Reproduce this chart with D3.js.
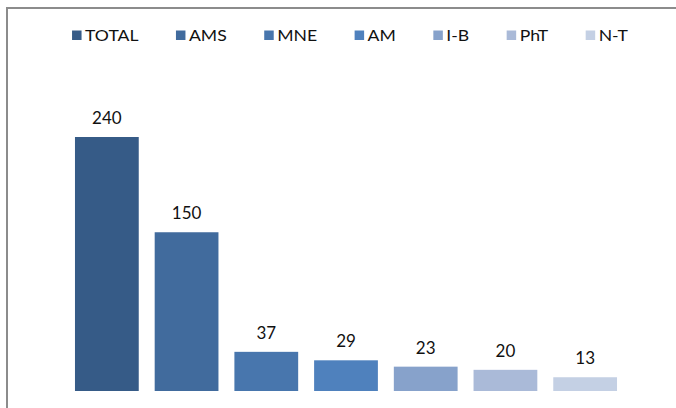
<!DOCTYPE html>
<html>
<head>
<meta charset="utf-8">
<script src="https://cdn.jsdelivr.net/npm/d3@7"></script>
<style>
  body { margin: 0; background: #fff; }
  svg { display: block; }
</style>
</head>
<body>
<script>
// chart data
const categories = ["TOTAL", "AMS", "MNE", "AM", "I-B", "PhT", "N-T"];
const values = [240, 150, 37, 29, 23, 20, 13];
const colors = ["#365b87", "#416b9d", "#4876ad", "#4f81bd", "#87a2cb", "#aabad8", "#c4d0e4"];

const width = 676, height = 408;

const svg = d3.select("body").append("svg")
  .attr("width", width)
  .attr("height", height);

// chart frame (only top + left edges are visible, rest runs off the page)
svg.append("rect")
  .attr("x", 7).attr("y", 8)
  .attr("width", 800).attr("height", 800)
  .attr("fill", "none")
  .attr("stroke", "#8c8c8c")
  .attr("stroke-width", 2);

const x = d3.scaleBand()
  .domain(categories)
  .range([67, 625])
  .paddingInner(0.2)
  .paddingOuter(0.1);

const y = d3.scaleLinear()
  .domain([0, 300])
  .range([391, 73.5]);

const data = categories.map((c, i) => ({ cat: c, value: values[i], color: colors[i] }));

svg.append("g").selectAll("rect")
  .data(data)
  .join("rect")
  .attr("x", d => x(d.cat))
  .attr("y", d => y(d.value))
  .attr("width", x.bandwidth())
  .attr("height", d => y(0) - y(d.value))
  .attr("fill", d => d.color);

svg.append("g").selectAll("text")
  .data(data)
  .join("text")
  .attr("x", d => x(d.cat) + x.bandwidth() / 2)
  .attr("y", d => y(d.value) - 13)
  .attr("text-anchor", "middle")
  .attr("font-family", "Lato, 'Open Sans', sans-serif")
  .attr("font-size", 17)
  .attr("fill", "#111")
  .text(d => d.value);

// legend: laid out left to right from text widths, then centred
const stretch = 1.1;
const legend = svg.append("g");
const items = legend.selectAll("g")
  .data(data)
  .join("g");

items.append("rect")
  .attr("x", 0).attr("y", -10.5)
  .attr("width", 9.5).attr("height", 9.5)
  .attr("fill", d => d.color);

items.append("text")
  .attr("transform", `translate(13,0) scale(${stretch},1)`)
  .attr("font-family", "Lato, 'Open Sans', sans-serif")
  .attr("font-size", 16)
  .attr("fill", "#111")
  .text(d => d.cat);

const gap = 37.5;
let cursor = 0;
items.each(function() {
  const g = d3.select(this);
  const w = g.select("text").node().getComputedTextLength() * stretch;
  g.attr("transform", `translate(${cursor},41)`);
  cursor += 13 + w + gap;
});
const legendWidth = cursor - gap;
legend.attr("transform", `translate(${350 - legendWidth / 2},0)`);
</script>
</body>
</html>
